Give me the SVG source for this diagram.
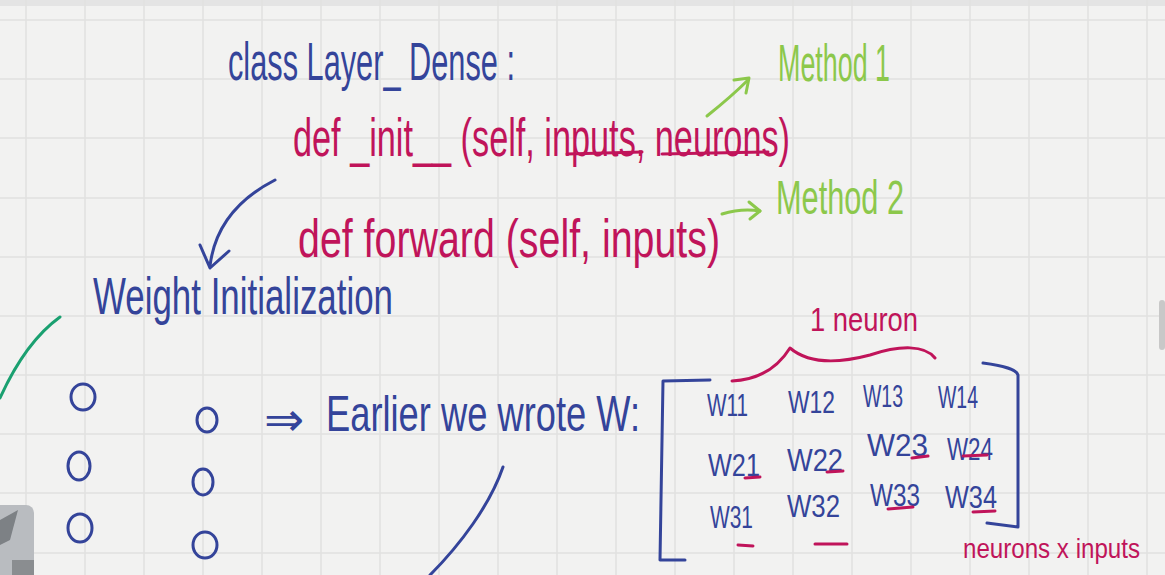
<svg xmlns="http://www.w3.org/2000/svg" width="1165" height="575" viewBox="0 0 1165 575">
<defs>
<style>
.bg{fill:#f2f2f1}
.grid{stroke:#e1e1e0;stroke-width:1.5}
text{font-family:"Liberation Sans","DejaVu Sans",sans-serif}
.blue{fill:#34449a}
.mag{fill:#c0145a}
.grn{fill:#8cc84b}
.sb{fill:none;stroke:#34449a;stroke-width:3;stroke-linecap:round;stroke-linejoin:round}
.sm{fill:none;stroke:#c0145a;stroke-width:3;stroke-linecap:round;stroke-linejoin:round}
.sg{fill:none;stroke:#8cc84b;stroke-width:3;stroke-linecap:round;stroke-linejoin:round}
.st{fill:none;stroke:#1aa070;stroke-width:3;stroke-linecap:round}
.w{font-size:32px}
</style>
</defs>
<rect class="bg" x="0" y="0" width="1165" height="575"/>
<rect x="0" y="0" width="1165" height="6" fill="#e4e4e4"/>
<g id="grid">
<path class="grid" d="M26 0V575M85 0V575M144 0V575M203 0V575M262 0V575M321 0V575M380 0V575M439 0V575M498 0V575M557 0V575M616 0V575M675 0V575M734 0V575M793 0V575M852 0V575M911 0V575M970 0V575M1029 0V575M1088 0V575M1147 0V575"/>
<path class="grid" d="M0 20H1165M0 79H1165M0 138H1165M0 198H1165M0 257H1165M0 316H1165M0 375H1165M0 434H1165M0 493H1165M0 553H1165"/>
</g>
<g id="thumbnail">
<rect x="-8" y="505" width="42" height="76" rx="8" fill="#b9bcc0"/>
<path d="M0 520 L18 510 L10 540 L0 545Z" fill="#7d8185"/>
<rect x="12" y="560" width="22" height="15" fill="#8a8d90"/>
</g>
<rect x="1159" y="300" width="6" height="50" rx="3" fill="#c8c8c8"/>
<g id="class-line">
<text class="blue" x="228" y="80" font-size="54" textLength="287" lengthAdjust="spacingAndGlyphs">class Layer_ Dense :</text>
</g>
<g id="init-line">
<text class="mag" x="293" y="156" font-size="54" textLength="497" lengthAdjust="spacingAndGlyphs">def _init__ (self, inputs, neurons)</text>
<path class="sm" d="M567 154 L642 152 M662 154 L768 152"/>
</g>
<g id="forward-line">
<text class="mag" x="298" y="257" font-size="54" textLength="422" lengthAdjust="spacingAndGlyphs">def forward (self, inputs)</text>
</g>
<g id="method1">
<text class="grn" x="778" y="81" font-size="52" textLength="112" lengthAdjust="spacingAndGlyphs">Method 1</text>
</g>
<g id="method2">
<text class="grn" x="776" y="214" font-size="48" textLength="128" lengthAdjust="spacingAndGlyphs">Method 2</text>
</g>
<g id="weight-init">
<text class="blue" x="93" y="314" font-size="52" textLength="300" lengthAdjust="spacingAndGlyphs">Weight Initialization</text>
</g>
<g id="earlier">
<text class="blue" x="264" y="436" font-size="48" font-family="DejaVu Sans">⇒</text>
<text class="blue" x="326" y="431" font-size="50" textLength="314" lengthAdjust="spacingAndGlyphs">Earlier we wrote W:</text>
</g>
<g id="neurons-left">
<ellipse class="sb" cx="83" cy="397" rx="12" ry="13"/>
<ellipse class="sb" cx="79" cy="466" rx="11" ry="14"/>
<ellipse class="sb" cx="80" cy="528" rx="12" ry="14"/>
</g>
<g id="neurons-right">
<ellipse class="sb" cx="207" cy="420" rx="10" ry="12"/>
<ellipse class="sb" cx="203" cy="482" rx="10" ry="13"/>
<ellipse class="sb" cx="205" cy="545" rx="12" ry="13"/>
</g>
<g id="matrix">
<path class="sb" d="M710 380 L663 381 L660 560 L685 560"/>
<path class="sb" d="M983 363 C1005 366 1016 369 1018 375 L1018 527 L987 523"/>
<text class="blue w" x="707" y="416" textLength="41" lengthAdjust="spacingAndGlyphs">W11</text>
<text class="blue w" x="788" y="413" textLength="47" lengthAdjust="spacingAndGlyphs">W12</text>
<text class="blue w" x="863" y="407" textLength="40" lengthAdjust="spacingAndGlyphs">W13</text>
<text class="blue w" x="938" y="408" textLength="40" lengthAdjust="spacingAndGlyphs">W14</text>
<text class="blue w" x="708" y="476" textLength="52" lengthAdjust="spacingAndGlyphs">W21</text>
<text class="blue w" x="787" y="471" textLength="56" lengthAdjust="spacingAndGlyphs">W22</text>
<text class="blue w" x="867" y="456" textLength="61" lengthAdjust="spacingAndGlyphs">W23</text>
<text class="blue w" x="947" y="460" textLength="46" lengthAdjust="spacingAndGlyphs">W24</text>
<text class="blue w" x="710" y="528" textLength="43" lengthAdjust="spacingAndGlyphs">W31</text>
<text class="blue w" x="787" y="517" textLength="53" lengthAdjust="spacingAndGlyphs">W32</text>
<text class="blue w" x="870" y="506" textLength="50" lengthAdjust="spacingAndGlyphs">W33</text>
<text class="blue w" x="945" y="508" textLength="52" lengthAdjust="spacingAndGlyphs">W34</text>
<path class="sm" d="M745 478 L760 477 M827 472 L843 471 M912 458 L928 456 M963 456 L987 455 M738 545 L753 546 M815 544 L847 544 M888 509 L913 507 M973 512 L995 511"/>
</g>
<g id="one-neuron">
<path class="sm" d="M732 381 C752 380 775 372 790 348 C810 365 840 363 870 355 C900 345 925 345 935 358"/>
<text class="mag" x="810" y="331" font-size="34" textLength="108" lengthAdjust="spacingAndGlyphs">1 neuron</text>
</g>
<g id="shape-label">
<text class="mag" x="963" y="558" font-size="28" textLength="177" lengthAdjust="spacingAndGlyphs">neurons x inputs</text>
</g>
<g id="connectors">
<path class="sg" d="M707 116 C722 104 736 92 748 80"/>
<path class="sg" d="M734 80 L749 78 L746 93"/>
<path class="sg" d="M722 214 C735 210 748 209 760 211"/>
<path class="sg" d="M749 202 L760 211 L750 219"/>
<path class="sb" d="M275 180 C240 198 215 225 210 266"/>
<path class="sb" d="M200 245 L210 268 L229 251"/>
<path class="st" d="M60 317 C35 335 15 365 0 398"/>
<path class="sb" d="M503 467 C490 505 460 545 430 575"/>
</g>
</svg>
